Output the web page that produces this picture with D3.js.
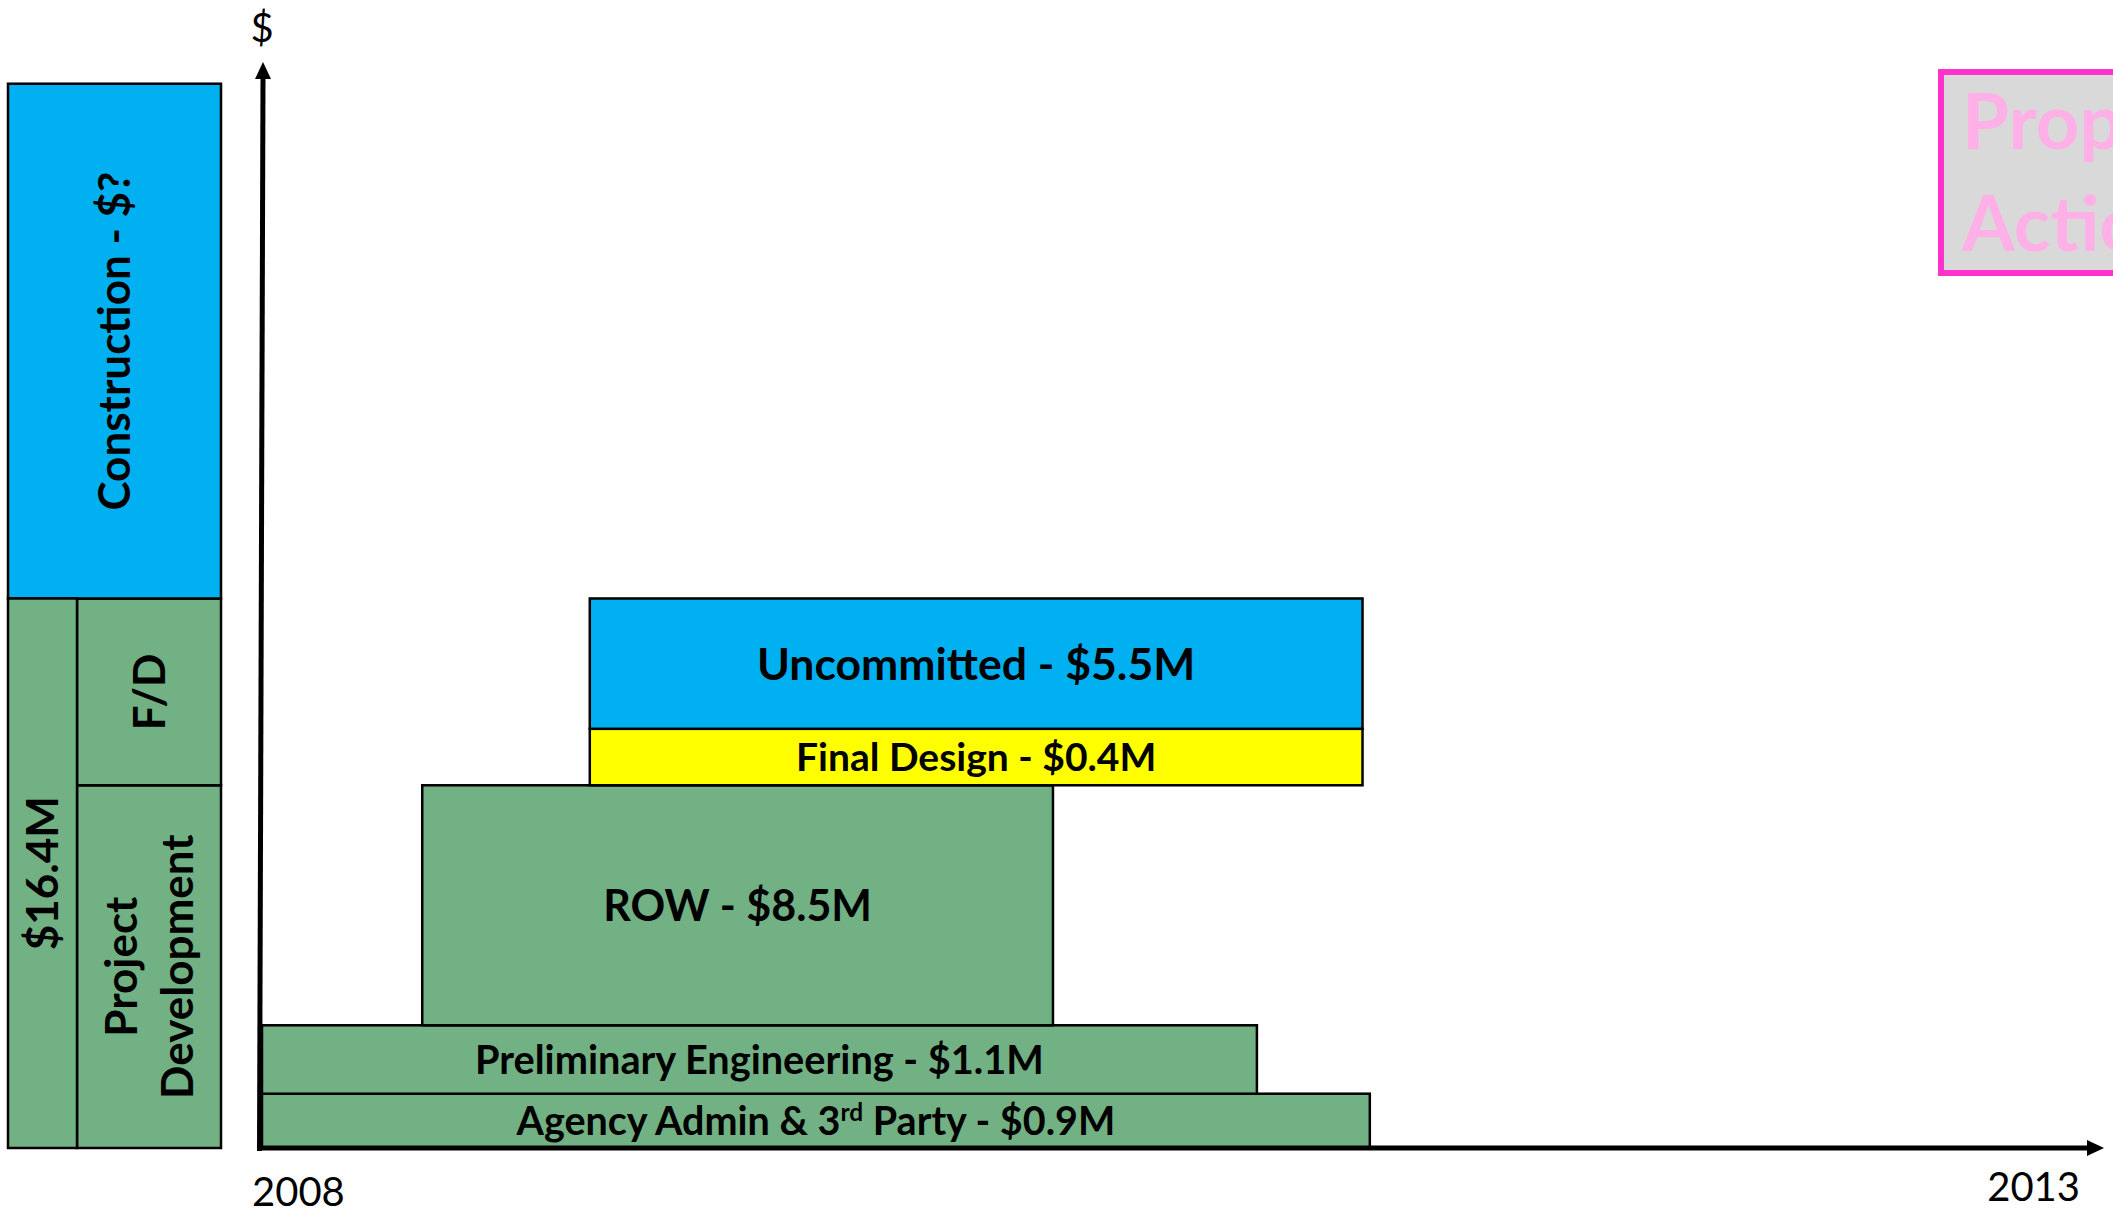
<!DOCTYPE html>
<html><head><meta charset="utf-8">
<script src="https://cdn.jsdelivr.net/npm/d3@7"></script>
<style>body{margin:0;background:#fff;overflow:hidden} svg{display:block}</style>
</head><body>
<svg id="chart" width="2113" height="1215"></svg>
<script>
// ---------------- data ----------------
const xTicks = [2008, 2013];
const yAxisLabel = "$";

const phases      = ["Agency Admin & 3rd Party", "Preliminary Engineering", "ROW", "Final Design", "Uncommitted"];
const phaseCosts  = ["$0.9M", "$1.1M", "$8.5M", "$0.4M", "$5.5M"];
const phaseGroups = ["Project Development", "Project Development", "Project Development", "Final Design", "Construction"];
const phaseStart  = [2008.0, 2008.0, 2008.44, 2008.9, 2008.9];
const phaseEnd    = [2011.05, 2010.74, 2010.18, 2011.03, 2011.03];
const phaseLow    = [0, 5, 11.3, 33.4, 38.6];
const phaseHigh   = [5, 11.3, 33.4, 38.6, 50.6];

const summaryLabels = [["Project", "Development"], ["F/D"], ["Construction - $?"]];
const summaryGroups = ["Project Development", "Final Design", "Construction"];
const summaryLow    = [0, 33.4, 50.6];
const summaryHigh   = [33.4, 50.6, 98];

const committedLabel = "$16.4M";
const committedRange = [0, 50.6];

const calloutLines = ["Proposed", "Action"];

// ---------------- styles ----------------
const FONT = "Lato, 'Open Sans', sans-serif";
const GREEN = "#72B183", BLUE = "#00B0F0", YELLOW = "#FFFF00";
const phaseColor = d3.scaleOrdinal()
  .domain(["Project Development", "Final Design", "Construction"])
  .range([GREEN, YELLOW, BLUE]);
const summaryColor = d3.scaleOrdinal()
  .domain(["Project Development", "Final Design", "Construction"])
  .range([GREEN, GREEN, BLUE]);
const labelSize = {"Agency Admin & 3rd Party": 39.5, "Preliminary Engineering": 39.7, "ROW": 43, "Final Design": 39, "Uncommitted": 44.5};
const SUM_SIZE = 44;

// ---------------- scales ----------------
const svg = d3.select("#chart");
const x = d3.scaleLinear().domain([2008, 2013]).range([259, 2080]);
const y = d3.scaleLinear().domain([0, 100]).range([1148, 62]);
const sx = d3.scaleLinear().domain([0, 1]).range([8, 221]);   // summary column
const split = 0.324;

// ---------------- summary column ----------------
const sum = svg.append("g");
const sumData = summaryGroups.map((g, i) => ({g, lab: summaryLabels[i], lo: summaryLow[i], hi: summaryHigh[i]}));
sum.selectAll("rect.s").data(sumData).join("rect").attr("class", "s")
  .attr("x", d => d.g === "Construction" ? sx(0) : sx(split))
  .attr("width", d => d.g === "Construction" ? sx(1) - sx(0) : sx(1) - sx(split))
  .attr("y", d => y(d.hi)).attr("height", d => y(d.lo) - y(d.hi))
  .attr("fill", d => summaryColor(d.g)).attr("stroke", "#000").attr("stroke-width", 2.5);
sum.append("rect")
  .attr("x", sx(0)).attr("width", sx(split) - sx(0))
  .attr("y", y(committedRange[1])).attr("height", y(committedRange[0]) - y(committedRange[1]))
  .attr("fill", GREEN).attr("stroke", "#000").attr("stroke-width", 2.5);

sumData.forEach(d => {
  const cx = d.g === "Construction" ? (sx(0) + sx(1)) / 2 : (sx(split) + sx(1)) / 2;
  const cy = (y(d.lo) + y(d.hi)) / 2;
  const t = sum.append("text")
    .attr("transform", `translate(${cx},${cy}) rotate(-90)`)
    .attr("text-anchor", "middle").attr("font-family", FONT).attr("font-weight", 700)
    .attr("font-size", SUM_SIZE).attr("fill", "#000");
  const n = d.lab.length, lh = 56;
  d.lab.forEach((line, k) => {
    t.append("tspan").attr("x", 0).attr("y", (k - (n - 1) / 2) * lh).attr("dy", "0.36em").text(line);
  });
});
sum.append("text")
  .attr("transform", `translate(${(sx(0) + sx(split)) / 2},${(y(committedRange[0]) + y(committedRange[1])) / 2}) rotate(-90)`)
  .attr("text-anchor", "middle").attr("dy", "0.36em")
  .attr("font-family", FONT).attr("font-weight", 700).attr("font-size", SUM_SIZE).text(committedLabel);

// ---------------- phase bars ----------------
const ph = phases.map((p, i) => ({p, c: phaseCosts[i], g: phaseGroups[i], s: phaseStart[i], e: phaseEnd[i], lo: phaseLow[i], hi: phaseHigh[i]}));
const bars = svg.append("g");
bars.selectAll("rect").data(ph).join("rect")
  .attr("x", d => x(d.s) + 3).attr("width", d => x(d.e) - x(d.s) - 3)
  .attr("y", d => y(d.hi)).attr("height", d => y(d.lo) - y(d.hi))
  .attr("fill", d => phaseColor(d.g)).attr("stroke", "#000").attr("stroke-width", 2.5);

ph.forEach(d => {
  const cx = (x(d.s) + 3 + x(d.e)) / 2, cy = (y(d.lo) + y(d.hi)) / 2;
  const t = bars.append("text").attr("x", cx).attr("y", cy).attr("dy", "0.36em")
    .attr("text-anchor", "middle").attr("font-family", FONT).attr("font-weight", 700)
    .attr("font-size", labelSize[d.p]).attr("fill", "#000");
  const m = d.p.match(/^(.*\d)(st|nd|rd|th)(.*)$/);
  if (m) {
    t.append("tspan").text(m[1]);
    t.append("tspan").attr("baseline-shift", "super").attr("font-size", "0.62em").text(m[2]);
    t.append("tspan").text(m[3] + " - " + d.c);
  } else {
    t.text(d.p + " - " + d.c);
  }
});

// ---------------- axes ----------------
const ax = svg.append("g");
const x0 = x(xTicks[0]);
ax.append("line").attr("x1", x0 + 0.5).attr("y1", y(0) + 3).attr("x2", x0 + 4).attr("y2", y(100) + 14)
  .attr("stroke", "#000").attr("stroke-width", 5);
ax.append("path").attr("d", `M${x0 + 4},${y(100)} L${x0 - 4},${y(100) + 17} L${x0 + 12},${y(100) + 17} Z`).attr("fill", "#000");
const xEnd = x(xTicks[1]) + 24;
ax.append("line").attr("x1", x0 - 2).attr("y1", y(0)).attr("x2", xEnd - 14).attr("y2", y(0))
  .attr("stroke", "#000").attr("stroke-width", 5);
ax.append("path").attr("d", `M${xEnd},${y(0)} L${xEnd - 17},${y(0) - 8} L${xEnd - 17},${y(0) + 8} Z`).attr("fill", "#000");

ax.append("text").attr("x", x(xTicks[0]) - 7).attr("y", 1206).attr("text-anchor", "start")
  .attr("font-family", FONT).attr("font-size", 40).text(xTicks[0]);
ax.append("text").attr("x", x(xTicks[1])).attr("y", 1201).attr("text-anchor", "end")
  .attr("font-family", FONT).attr("font-size", 40).text(xTicks[1]);
ax.append("text").attr("x", x0 + 3).attr("y", 42).attr("text-anchor", "middle")
  .attr("font-family", FONT).attr("font-size", 40).text(yAxisLabel);

// ---------------- callout ----------------
const co = svg.append("g");
co.append("rect").attr("x", 1941).attr("y", 72).attr("width", 300).attr("height", 201)
  .attr("fill", "#D9D9D9").attr("stroke", "#FF33CC").attr("stroke-width", 6);
calloutLines.forEach((l, i) => {
  co.append("text").attr("x", 1962).attr("y", 149 + i * 102)
    .attr("font-family", FONT).attr("font-weight", 700).attr("font-size", 76)
    .attr("fill", "#FFB0E6").text(l);
});
</script>
</body></html>
